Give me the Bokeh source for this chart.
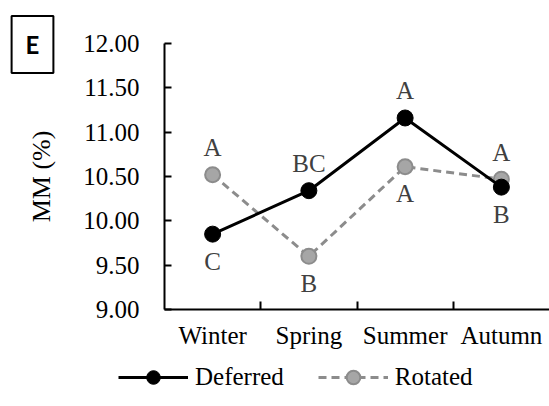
from bokeh.plotting import figure
from bokeh.models import (Range1d, FixedTicker, NumeralTickFormatter, Legend, LegendItem,
                          ColumnDataSource)
from bokeh.core.properties import value
from bokeh.embed import file_html
from bokeh.resources import INLINE

categories = ["Winter", "Spring", "Summer", "Autumn"]
deferred = [9.85, 10.34, 11.16, 10.38]
rotated = [10.52, 9.60, 10.61, 10.47]
deferred_letters = ["C", "BC", "A", "B"]
deferred_side = ["below", "above", "above", "below"]
rotated_letters = ["A", "B", "A", "A"]
rotated_side = ["above", "below", "below", "above"]
y_ticks = [9.0, 9.5, 10.0, 10.5, 11.0, 11.5, 12.0]
panel_tag = "E"

SERIF = "Liberation Serif"
FS = "25px"

# page layout (pixels)
W, H = 549, 406
AX_LEFT, AX_RIGHT, AX_TOP, AX_BOTTOM = 164, 549, 43, 309

n = len(categories)
xs = [i + 0.5 for i in range(n)]
y0, y1 = min(y_ticks), max(y_ticks)
px_x = (AX_RIGHT - AX_LEFT) / n
px_y = (AX_BOTTOM - AX_TOP) / (y1 - y0)
x_range = Range1d(-AX_LEFT / px_x, n + (W - AX_RIGHT) / px_x)
y_range = Range1d(y0 - (H - AX_BOTTOM) / px_y, y1 + AX_TOP / px_y)

p = figure(width=W, height=H, output_backend="svg", toolbar_location=None,
           x_range=x_range, y_range=y_range, min_border=0)
p.outline_line_color = None
p.xgrid.visible = False
p.ygrid.visible = False

# axes
xa = p.xaxis[0]
xa.fixed_location = y0
xa.bounds = (0, n)
xa.ticker = FixedTicker(ticks=xs, minor_ticks=[i for i in range(1, n)])
xa.major_label_overrides = {x: c for x, c in zip(xs, categories)}
xa.major_tick_in = 0
xa.major_tick_out = 0
xa.minor_tick_in = 8
xa.minor_tick_out = 0
xa.minor_tick_line_width = 2
xa.axis_line_width = 2
xa.major_label_text_font = SERIF
xa.major_label_text_font_size = FS
xa.major_label_text_color = "black"
xa.major_label_standoff = 12

ya = p.yaxis[0]
ya.fixed_location = 0
ya.bounds = (y0, y1)
ya.ticker = FixedTicker(ticks=y_ticks)
ya.formatter = NumeralTickFormatter(format="0.00")
ya.major_tick_in = 7
ya.major_tick_out = 0
ya.major_tick_line_width = 2
ya.minor_tick_line_color = None
ya.axis_line_width = 2
ya.major_label_text_font = SERIF
ya.major_label_text_font_size = FS
ya.major_label_text_color = "black"
ya.major_label_standoff = 25
ya.axis_label = "MM (%)"
ya.axis_label_text_font = SERIF
ya.axis_label_text_font_size = "26px"
ya.axis_label_text_font_style = "normal"
ya.axis_label_text_color = "black"
ya.axis_label_standoff = 24

# series
rl = p.line(xs, rotated, line_color="#8c8c8c", line_width=3, line_dash="8 5")
rs = p.scatter(xs, rotated, size=15, fill_color="#a6a6a6", line_color="#8c8c8c", line_width=2)
dl = p.line(xs, deferred, line_color="black", line_width=3)
ds = p.scatter(xs, deferred, size=16, fill_color="black", line_color="black")

# significance letters
def offs(sides):
    return [-27 if s == "above" else 27 for s in sides]

src_d = ColumnDataSource(dict(x=xs, y=deferred, t=deferred_letters, o=offs(deferred_side)))
src_r = ColumnDataSource(dict(x=xs, y=rotated, t=rotated_letters, o=offs(rotated_side)))
for src in (src_d, src_r):
    p.text(x="x", y="y", text="t", y_offset="o", source=src, text_align="center",
           text_baseline="middle", text_font=value(SERIF), text_font_size=FS,
           text_color="#404040")

legend = Legend(items=[LegendItem(label="Deferred", renderers=[dl, ds]),
                       LegendItem(label="Rotated", renderers=[rl, rs])],
                orientation="horizontal", location=(118, 12),
                glyph_width=70, glyph_height=34, label_height=34, label_standoff=7,
                spacing=34, padding=0, margin=0, border_line_color=None,
                background_fill_alpha=0,
                label_text_font=SERIF, label_text_font_size=FS, label_text_color="black")
p.add_layout(legend)

# panel tag box at the top-left corner
p.text(x=[x_range.start], y=[y_range.end], text=[panel_tag], x_offset=32, y_offset=44,
       text_align="center", text_baseline="middle", text_font=value("Lato"),
       text_font_style="bold", text_font_size="24px", text_color="black",
       border_line_color="black", border_line_width=2, background_fill_color="white",
       padding=14, level="overlay")

open("out.html", "w").write(file_html(p, INLINE))
